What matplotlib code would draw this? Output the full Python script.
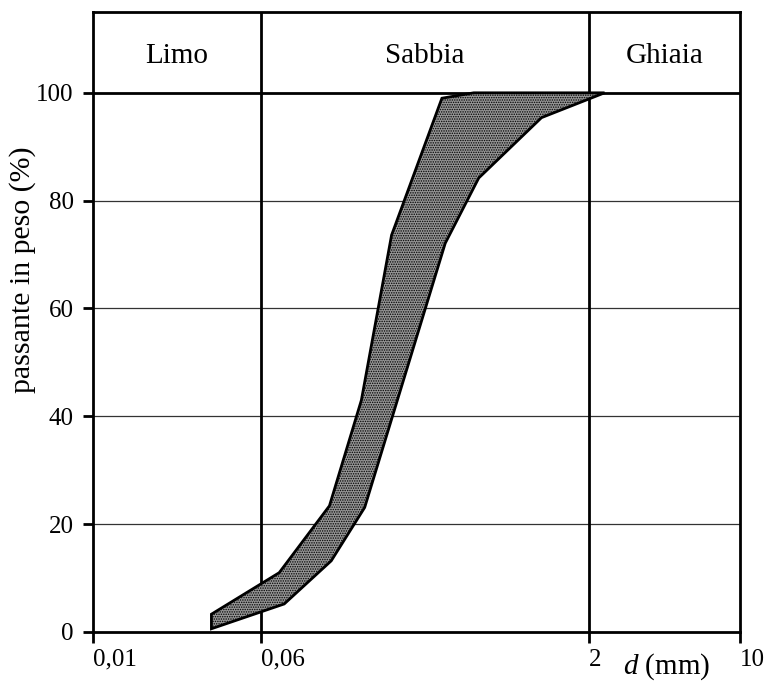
import matplotlib
matplotlib.use("Agg")
import matplotlib.pyplot as plt

plt.rcParams['font.family'] = ['Liberation Serif', 'DejaVu Serif']
plt.rcParams['mathtext.fontset'] = 'custom'
plt.rcParams['mathtext.rm'] = 'Liberation Serif'
plt.rcParams['mathtext.it'] = 'Liberation Serif:italic'
plt.rcParams['hatch.color'] = '#555555'
plt.rcParams['hatch.linewidth'] = 0.7

# fuso granulometrico: limite fine (sinistra) e limite grosso (destra)
d_fine = [0.0354, 0.0730, 0.1248, 0.1755, 0.2422, 0.4146, 0.5822]
p_fine = [3.3, 11.0, 23.4, 43.0, 73.6, 99.0, 100.0]
d_coarse = [0.0354, 0.0770, 0.1272, 0.1818, 0.4295, 0.6142, 1.201, 2.353]
p_coarse = [0.6, 5.2, 13.2, 23.1, 72.1, 84.2, 95.4, 100.0]

classes = ['Limo', 'Sabbia', 'Ghiaia']
class_limits = [0.01, 0.06, 2, 10]
x_ticks = [0.01, 0.06, 2, 10]
x_ticklabels = ['0,01', '0,06', '2', '10']
y_ticks = [0, 20, 40, 60, 80, 100]

fig = plt.figure(figsize=(7.65, 6.83), dpi=100)
ax = fig.add_axes([0.1216, 0.0747, 0.8458, 0.9078])
ax.set_xscale('log')
ax.set_xlim(0.01, 10)
ax.set_ylim(0, 115)

# poligono del fuso
xs = d_fine + d_coarse[::-1]
ys = p_fine + p_coarse[::-1]
ax.fill(xs, ys, facecolor='#969696', edgecolor='black', hatch='.......',
        linewidth=2, zorder=3)

for y in y_ticks[1:-1]:
    ax.axhline(y, color='#333333', linewidth=0.9, zorder=1)
ax.axhline(100, color='black', linewidth=2, zorder=2)
for x in class_limits[1:-1]:
    ax.axvline(x, color='black', linewidth=2, zorder=2)

for i in range(len(classes)):
    lo = class_limits[i]
    hi = class_limits[i + 1]
    xc = (lo * hi) ** 0.5
    ax.text(xc, 106.9, classes[i], ha='center', va='center', fontsize=21)

for s in ax.spines.values():
    s.set_linewidth(2)

ax.set_xticks(x_ticks)
ax.set_xticklabels(x_ticklabels)
ax.xaxis.set_minor_locator(matplotlib.ticker.NullLocator())
plt.setp(ax.get_xticklabels(), ha='left')
ax.set_yticks(y_ticks)
ax.tick_params(axis='x', length=8, width=2, labelsize=18, pad=4)
ax.tick_params(axis='y', length=7, width=2, labelsize=18, pad=7)
ax.set_ylabel('passante in peso (%)', fontsize=21.5)
ax.yaxis.set_label_coords(-0.088, 0.584)

fig.text(0.872, 0.001, '$d$ (mm)', ha='center', va='bottom', fontsize=21)

fig.savefig('out.png', dpi=100)
